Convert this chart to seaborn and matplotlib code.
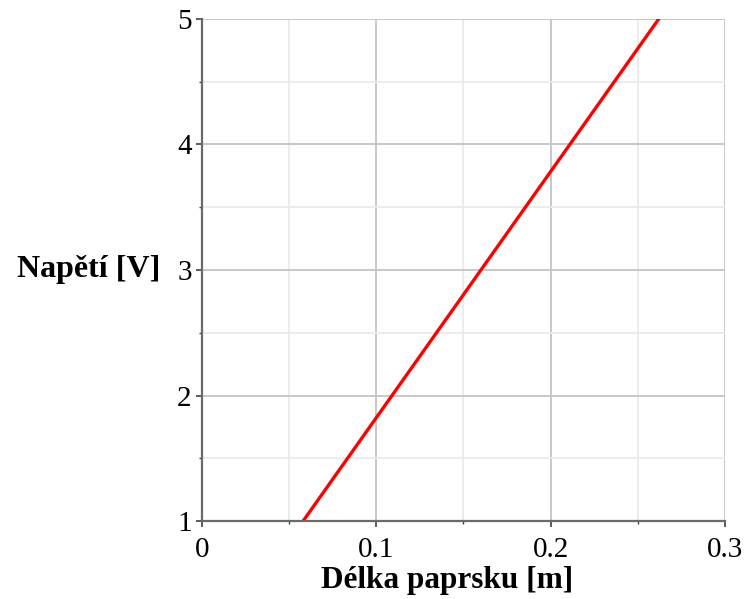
import matplotlib
matplotlib.use("Agg")
import matplotlib.pyplot as plt
import seaborn as sns
import pandas as pd
from matplotlib.ticker import MultipleLocator

# Data
delka = [0.058, 0.262]      # Délka paprsku [m]
napeti = [1.0, 5.0]         # Napětí [V]
x_ticks = [0, 0.1, 0.2, 0.3]
x_tick_labels = ["0", "0.1", "0.2", "0.3"]
y_ticks = [1, 2, 3, 4, 5]
y_tick_labels = ["1", "2", "3", "4", "5"]

df = pd.DataFrame({"x": delka, "y": napeti})

sns.set_theme(style="white")
plt.rcParams['font.family'] = ['Liberation Serif', 'DejaVu Serif']

fig = plt.figure(figsize=(7.46, 5.99), dpi=100)
ax = fig.add_axes([0.2708, 0.1302, 0.7010, 0.8381])

sns.lineplot(data=df, x="x", y="y", ax=ax, color="#ff0000", linewidth=2.4)

ax.set_xlim(0, 0.3)
ax.set_ylim(1, 5)
ax.set_xticks(x_ticks)
ax.set_xticklabels(x_tick_labels)
ax.set_yticks(y_ticks)
ax.set_yticklabels(y_tick_labels)
ax.xaxis.set_minor_locator(MultipleLocator(0.05))
ax.yaxis.set_minor_locator(MultipleLocator(0.5))

ax.grid(which="major", color="#c4c4c4", linewidth=1.3)
ax.grid(which="minor", color="#ebebeb", linewidth=1.3)
ax.set_axisbelow(True)

for s in ["top", "right"]:
    ax.spines[s].set_visible(False)
for s in ["left", "bottom"]:
    ax.spines[s].set_color("#6a6a6a")
    ax.spines[s].set_linewidth(1.6)

ax.tick_params(which="major", direction="out", length=4.5, width=1.2, color="#404040",
               labelsize=21, labelcolor="black", left=True, bottom=True)
ax.tick_params(axis="x", which="major", pad=7)
ax.tick_params(axis="y", which="major", pad=3)
ax.tick_params(which="minor", direction="out", length=2.5, width=1.0, color="#404040",
               left=True, bottom=True)

ax.set_xlabel("Délka paprsku [m]", fontsize=22.5, fontweight="bold", color="black")
ax.xaxis.set_label_coords(0.468, -0.118)
ax.xaxis.label.set_va("center")
ax.set_ylabel("Napětí [V]", fontsize=23, fontweight="bold", color="black", rotation=0,
              ha="right", va="center")
ax.yaxis.set_label_coords(-0.080, 0.5)

fig.savefig("out.png", dpi=100)
